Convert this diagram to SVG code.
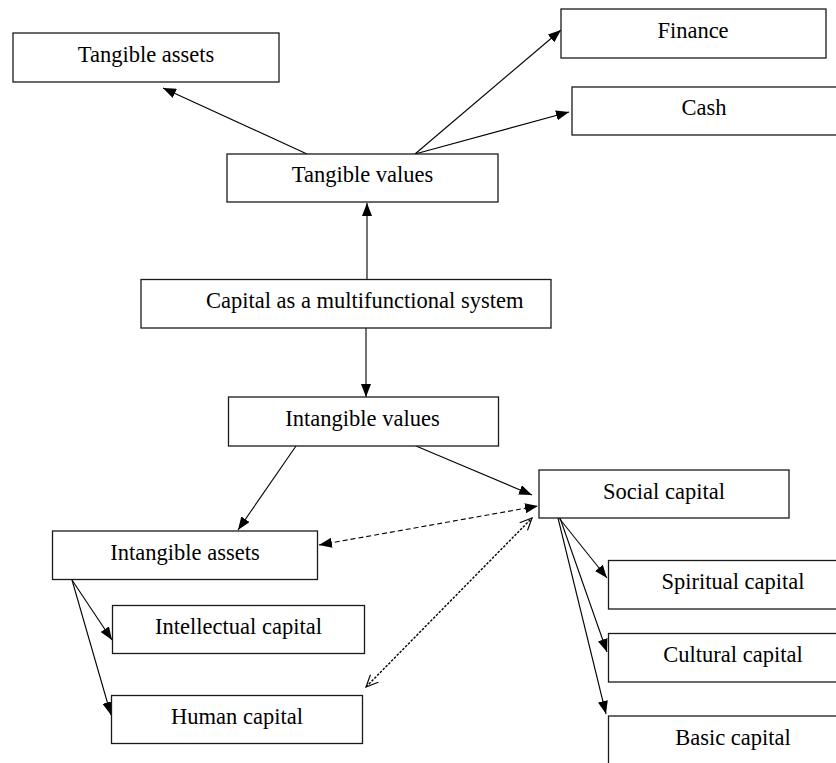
<svg xmlns="http://www.w3.org/2000/svg" width="836" height="763" viewBox="0 0 836 763">
  <style>
    .box { fill: #fff; stroke: #1a1a1a; stroke-width: 1.3; }
    .lbl { font-family: "Liberation Serif", "Times New Roman", serif; font-size: 22.5px; fill: #000; text-anchor: middle; }
    .edge { stroke: #000; stroke-width: 1.1; fill: none; }
    .arrow { marker-end: url(#tri); }
    .dash { stroke-dasharray: 5 3; marker-start: url(#tri); marker-end: url(#tri); }
    .dot { stroke-width: 1.4; stroke-dasharray: 2.5 1.5; marker-start: url(#open); marker-end: url(#open); }
  </style>
  <defs>
    <marker id="tri" viewBox="0 0 13 10" refX="13" refY="5" markerWidth="13" markerHeight="10" markerUnits="userSpaceOnUse" orient="auto-start-reverse">
      <path d="M0,0 L13,5 L0,10 z" fill="#000"/>
    </marker>
    <marker id="open" viewBox="0 0 14 12" refX="13" refY="6" markerWidth="14" markerHeight="12" markerUnits="userSpaceOnUse" orient="auto-start-reverse">
      <path d="M1,0.5 L13,6 L1,11.5" fill="none" stroke="#000" stroke-width="1.2"/>
    </marker>
  </defs>

  <rect width="836" height="763" fill="#fff"/>

  <!-- connectors -->
  <g id="connectors">
    <line class="edge arrow" x1="307" y1="154" x2="163" y2="88"/>
    <line class="edge arrow" x1="415" y1="154" x2="561" y2="30"/>
    <line class="edge arrow" x1="415" y1="154" x2="569" y2="112"/>
    <line class="edge arrow" x1="367" y1="279" x2="367" y2="203"/>
    <line class="edge arrow" x1="366" y1="328" x2="366" y2="397"/>
    <line class="edge arrow" x1="296" y1="446" x2="238" y2="530"/>
    <line class="edge arrow" x1="416" y1="446" x2="532" y2="495"/>
    <line class="edge arrow" x1="72" y1="580" x2="112" y2="640"/>
    <line class="edge arrow" x1="72" y1="580" x2="111" y2="715"/>
    <line class="edge arrow" x1="559" y1="518" x2="607" y2="578"/>
    <line class="edge arrow" x1="560" y1="518" x2="607" y2="652"/>
    <line class="edge arrow" x1="558" y1="518" x2="606" y2="714"/>
    <line class="edge dash" x1="319" y1="545" x2="538" y2="506"/>
    <line class="edge dot" x1="366" y1="687" x2="532" y2="518"/>
  </g>

  <!-- nodes -->
  <g id="tangible-assets">
    <rect class="box" x="13" y="33" width="266" height="49"/>
    <text class="lbl" x="146" y="62">Tangible assets</text>
  </g>
  <g id="finance">
    <rect class="box" x="561" y="9" width="265" height="49"/>
    <text class="lbl" x="693" y="38">Finance</text>
  </g>
  <g id="cash">
    <rect class="box" x="572" y="87" width="280" height="48"/>
    <text class="lbl" x="704" y="115">Cash</text>
  </g>
  <g id="tangible-values">
    <rect class="box" x="227" y="154" width="271" height="48"/>
    <text class="lbl" x="362.5" y="182">Tangible values</text>
  </g>
  <g id="capital-system">
    <rect class="box" x="141" y="279.5" width="410" height="48.5"/>
    <text class="lbl" x="206" y="308" style="text-anchor:start">Capital as a multifunctional system</text>
  </g>
  <g id="intangible-values">
    <rect class="box" x="228.5" y="397" width="270" height="49"/>
    <text class="lbl" x="362.5" y="425.5">Intangible values</text>
  </g>
  <g id="social-capital">
    <rect class="box" x="539" y="470" width="250" height="48"/>
    <text class="lbl" x="664" y="498.5">Social capital</text>
  </g>
  <g id="intangible-assets">
    <rect class="box" x="52.5" y="531" width="265" height="48.5"/>
    <text class="lbl" x="185" y="559.5">Intangible assets</text>
  </g>
  <g id="intellectual-capital">
    <rect class="box" x="112.5" y="605.5" width="252" height="48"/>
    <text class="lbl" x="238.5" y="634">Intellectual capital</text>
  </g>
  <g id="human-capital">
    <rect class="box" x="111.5" y="695.5" width="251" height="48"/>
    <text class="lbl" x="237" y="724">Human capital</text>
  </g>
  <g id="spiritual-capital">
    <rect class="box" x="608.5" y="560.5" width="250" height="48.5"/>
    <text class="lbl" x="733" y="589">Spiritual capital</text>
  </g>
  <g id="cultural-capital">
    <rect class="box" x="608.5" y="633.5" width="250" height="48.5"/>
    <text class="lbl" x="733" y="662">Cultural capital</text>
  </g>
  <g id="basic-capital">
    <rect class="box" x="608.5" y="716" width="250" height="60"/>
    <text class="lbl" x="733" y="744.5">Basic capital</text>
  </g>
</svg>
